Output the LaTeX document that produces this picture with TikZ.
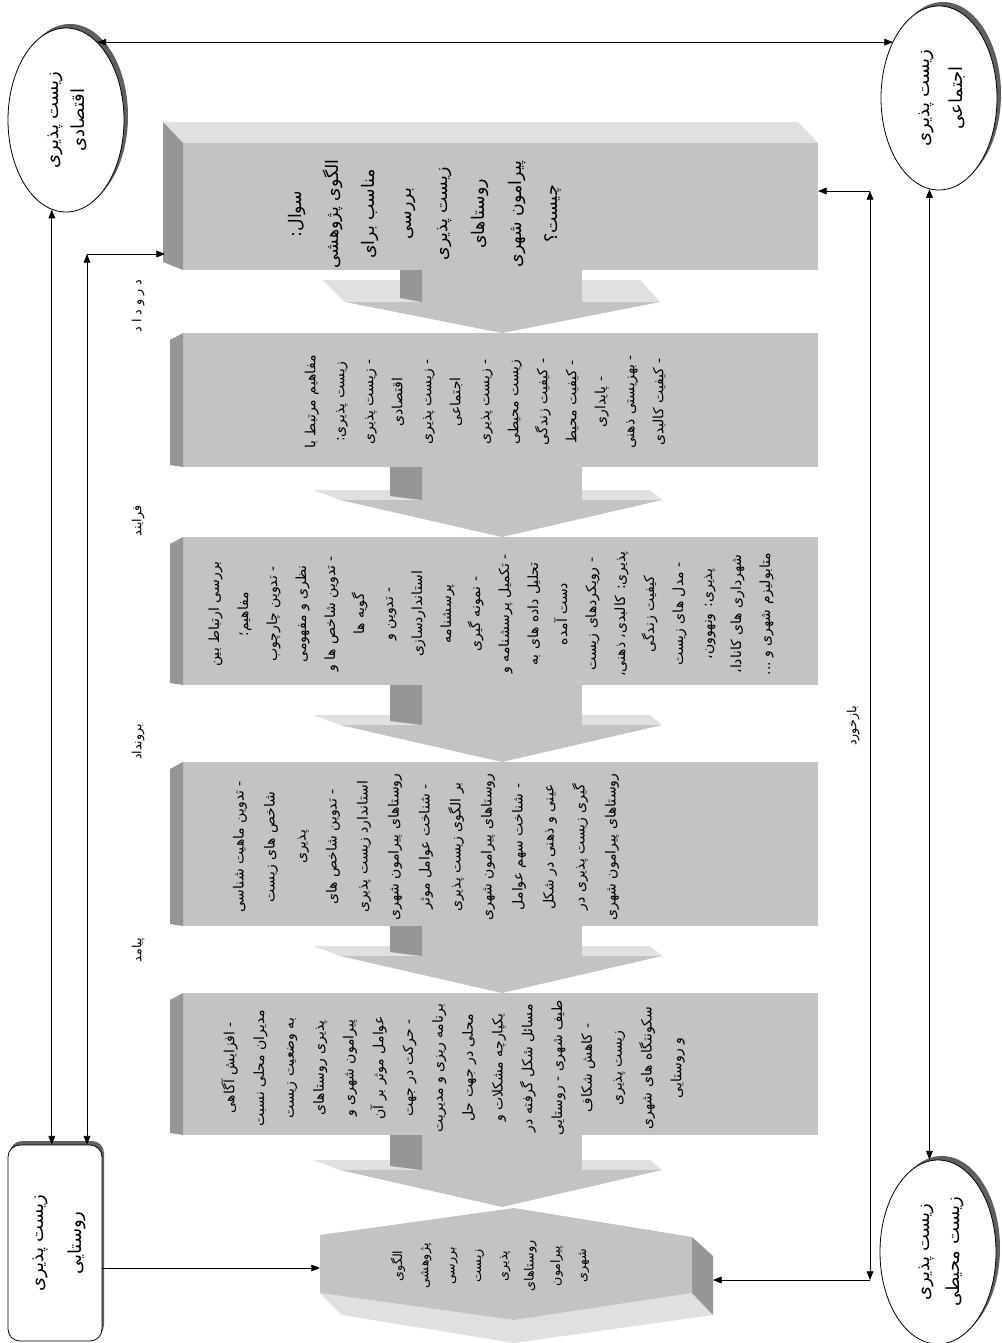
\documentclass[tikz,border=0pt]{standalone}
\usepackage{fontspec}
\usepackage{graphicx}
\usetikzlibrary{shapes.geometric}
\usetikzlibrary{arrows.meta}
\newfontfamily\farsifont[Script=Arabic]{DejaVu Sans}
\TeXXeTstate=1
\newcommand{\fa}[1]{\beginR #1\endR}
\definecolor{faceGray}{RGB}{195,195,195}
\definecolor{topGray}{RGB}{224,224,224}
\definecolor{sideGray}{RGB}{150,150,150}
\definecolor{shadowGray}{RGB}{95,95,95}

\begin{document}
\begin{tikzpicture}[x=0.75pt,y=0.75pt,yscale=-1,xscale=1,
  face/.style={fill=faceGray,draw=none,inner sep=0pt,outer sep=0pt,minimum width=476.25pt},
  txt/.style={rotate=90,align=center,inner sep=0.75pt,font=\farsifont\fontsize{10.5}{#1}\selectfont},
  lbl/.style={rotate=90,inner sep=0.75pt,font=\farsifont\fontsize{9.5}{10}\selectfont},
  oval/.style={ellipse,draw,fill=white,line width=0.6pt,inner sep=0pt,minimum width=87pt,minimum height=138pt},
  arr/.style={line width=0.6pt,-{Triangle[length=6.5pt,width=5pt]}},
  darr/.style={line width=0.6pt,{Triangle[length=6.5pt,width=5pt]}-{Triangle[length=6.5pt,width=5pt]}}]
\useasboundingbox (0,0) rectangle (1001,1343);

%Shape: Box fronts
\node[face,minimum height=95.25pt] (b1) at (500.5,206.5) {};
\node[face,minimum height=100.5pt] (b2) at (500.5,400) {};
\node[face,minimum height=111pt] (b3) at (500.5,611) {};
\node[face,minimum height=123pt] (b4) at (500.5,844) {};
\node[face,minimum height=106.5pt] (b5) at (500.5,1064) {};

%Shape: Box 3d sides
\fill[topGray] (163,122) -- (798,122) -- (818,143) -- (183,143) -- cycle;
\fill[sideGray] (163,122) -- (183,143) -- (183,270) -- (163,262) -- cycle;
\fill[sideGray] (170,340) -- (183,333) -- (183,467) -- (170,465) -- cycle;
\fill[sideGray] (170,544) -- (183,537) -- (183,685) -- (170,683) -- cycle;
\fill[sideGray] (170,769) -- (183,762) -- (183,926) -- (170,924) -- cycle;
\fill[sideGray] (170,1000) -- (183,993) -- (183,1135) -- (170,1133) -- cycle;

%Shape: Block arrow 1
\fill[topGray] (323,280) -- (640,280) -- (660,302) -- (345,302) -- cycle;
\fill[faceGray] (422,270) rectangle (582,303);
\fill[sideGray] (400,270) -- (422,270) -- (422,302) -- (400,298) -- cycle;
\fill[faceGray] (345,302) -- (660,302) -- (502,333) -- cycle;
%Shape: Block arrow 2
\fill[topGray] (313,490) -- (650,490) -- (662,500) -- (340,500) -- cycle;
\fill[faceGray] (422,467) rectangle (582,501);
\fill[sideGray] (390,467) -- (422,467) -- (422,500) -- (390,496) -- cycle;
\fill[faceGray] (340,500) -- (662,500) -- (502,537) -- cycle;
%Shape: Block arrow 3
\fill[topGray] (313,715) -- (650,715) -- (662,725) -- (340,725) -- cycle;
\fill[faceGray] (422,685) rectangle (582,726);
\fill[sideGray] (390,685) -- (422,685) -- (422,725) -- (390,721) -- cycle;
\fill[faceGray] (340,725) -- (662,725) -- (502,762) -- cycle;
%Shape: Block arrow 4
\fill[topGray] (313,946) -- (650,946) -- (662,956) -- (340,956) -- cycle;
\fill[faceGray] (422,926) rectangle (582,957);
\fill[sideGray] (390,926) -- (422,926) -- (422,956) -- (390,952) -- cycle;
\fill[faceGray] (340,956) -- (662,956) -- (502,993) -- cycle;
%Shape: Block arrow 5
\fill[topGray] (313,1160) -- (650,1160) -- (662,1170) -- (340,1170) -- cycle;
\fill[faceGray] (422,1135) rectangle (582,1171);
\fill[sideGray] (390,1135) -- (422,1135) -- (422,1170) -- (390,1166) -- cycle;
\fill[faceGray] (340,1170) -- (662,1170) -- (502,1207) -- cycle;

%Shape: Final block
\fill[topGray] (320,1293) -- (342,1315) -- (514,1343) -- (713,1315) -- (692,1293) -- (514,1320) -- cycle;
\fill[sideGray] (692,1237) -- (713,1256) -- (713,1315) -- (692,1293) -- cycle;
\fill[faceGray] (320,1235) -- (514,1208) -- (692,1237) -- (692,1293) -- (514,1320) -- (320,1293) -- cycle;
\node[inner sep=0pt,outer sep=0pt,minimum width=294.75pt,minimum height=84pt] (fin) at (516.5,1268) {};

%Shape: Ellipses and rural box
\fill[shadowGray] (70,116) ellipse [x radius=58, y radius=92];
\node[oval] (econ) at (66,120) {\rotatebox{90}{\farsifont\fontsize{13.5}{20}\selectfont\begin{tabular}{c}\fa{زیست پذیری}\\\fa{اقتصادی}\end{tabular}}};
\fill[shadowGray] (943,94) ellipse [x radius=58, y radius=92];
\node[oval] (soc) at (939,98) {\rotatebox{90}{\farsifont\fontsize{13.5}{25}\selectfont\begin{tabular}{c}\fa{زیست پذیری}\\\fa{اجتماعی}\end{tabular}}};
\fill[shadowGray] (942,1248) ellipse [x radius=58, y radius=92];
\node[oval] (env) at (938,1252) {\rotatebox{90}{\farsifont\fontsize{13.5}{22.5}\selectfont\begin{tabular}{c}\fa{زیست پذیری}\\\fa{زیست محیطی}\end{tabular}}};
\fill[shadowGray,rounded corners=9pt] (10,1141) rectangle (104,1337);
\node[draw,fill=white,rounded corners=9pt,line width=0.6pt,inner sep=0pt,minimum width=70.5pt,minimum height=147pt] (rural) at (55,1243) {\rotatebox{90}{\farsifont\fontsize{13.5}{28}\selectfont\begin{tabular}{c}\fa{زیست پذیری}\\\fa{روستایی}\end{tabular}}};

%Straight Lines
\coordinate (inL) at (87,254);
\coordinate (inR) at (870,191);
\coordinate (outR) at (870,1280);
\draw[darr] (econ.68) -- (econ.68 -| soc.129);
\draw[darr] (econ.261) -- (econ.261 |- rural.north);
\draw[darr] (inL) -- (inL |- rural.north);
\draw[arr,shorten >=13.5pt] (inL) -- (inL -| b1.west);
\draw[arr] (inR) -- (inR -| b1.east);
\draw[darr] (inR) -- (outR);
\draw[arr] (outR) -- (outR -| fin.east);
\draw[arr] (rural.east |- fin.west) -- (fin.west);
\draw[darr] (soc.264) -- (soc.264 |- env.north);

% Text Node
\node[txt=27.4pt,font=\farsifont\fontsize{13}{27.4}\selectfont] (t1) at (425,214) {\fa{سوال:}\\\fa{الگوی پژوهشی}\\\fa{مناسب برای}\\\fa{بررسی}\\\fa{زیست پذیری}\\\fa{روستاهای}\\\fa{پیرامون شهری}\\\fa{چیست؟}};
% Text Node
\node[txt=21.75pt] (t2) at (485,402) {\fa{مفاهیم مرتبط با}\\\fa{زیست پذیری:}\\\fa{- زیست پذیری}\\\fa{اقتصادی}\\\fa{- زیست پذیری}\\\fa{اجتماعی}\\\fa{- زیست پذیری}\\\fa{زیست محیطی}\\\fa{- کیفیت زندگی}\\\fa{- کیفیت محیط}\\\fa{- پایداری}\\\fa{- بهزیستی ذهنی}\\\fa{- کیفیت کالبدی}};
% Text Node
\node[txt=21.75pt] (t3) at (491,614) {\fa{بررسی ارتباط بین}\\\fa{مفاهیم؛}\\\fa{- تدوین چارچوب}\\\fa{نظری و مفهومی}\\\fa{- تدوین شاخص ها و}\\\fa{گویه ها}\\\fa{- تدوین و}\\\fa{استانداردسازی}\\\fa{پرسشنامه}\\\fa{- نمونه گیری}\\\fa{- تکمیل پرسشنامه و}\\\fa{تحلیل داده های به}\\\fa{دست آمده}\\\fa{- رویکردهای زیست}\\\fa{پذیری: کالبدی، ذهنی،}\\\fa{کیفیت زندگی}\\\fa{- مدل های زیست}\\\fa{پذیری: ونهوون،}\\\fa{شهرداری های کانادا،}\\\fa{متابولیزم شهری و ...}};
% Text Node
\node[txt=23.25pt] (t4) at (426,847) {\fa{- تدوین ماهیت شناسی}\\\fa{شاخص های زیست}\\\fa{پذیری}\\\fa{- تدوین شاخص های}\\\fa{استاندارد زیست پذیری}\\\fa{روستاهای پیرامون شهری}\\\fa{- شناخت عوامل موثر}\\\fa{بر الگوی زیست پذیری}\\\fa{روستاهای پیرامون شهری}\\\fa{- شناخت سهم عوامل}\\\fa{عینی و ذهنی در شکل}\\\fa{گیری زیست پذیری در}\\\fa{روستاهای پیرامون شهری}};
% Text Node
\node[txt=22.35pt] (t5) at (453,1068) {\fa{- افزایش آگاهی}\\\fa{مدیران محلی نسبت}\\\fa{به وضعیت زیست}\\\fa{پذیری روستاهای}\\\fa{پیرامون شهری و}\\\fa{عوامل موثر بر آن}\\\fa{- حرکت در جهت}\\\fa{برنامه ریزی و مدیریت}\\\fa{محلی در جهت حل}\\\fa{یکپارچه مشکلات و}\\\fa{مسائل شکل گرفته در}\\\fa{طیف شهری - روستایی}\\\fa{- کاهش شکاف}\\\fa{زیست پذیری}\\\fa{سکونتگاه های شهری}\\\fa{و روستایی}};
% Text Node
\node[txt=19.7pt,font=\farsifont\fontsize{9.5}{19.7}\selectfont] (tf) at (490,1266) {\fa{الگوی}\\\fa{پژوهشی}\\\fa{بررسی}\\\fa{زیست}\\\fa{پذیری}\\\fa{روستاهای}\\\fa{پیرامون}\\\fa{شهری}};
% Text Node
\node[lbl] (l1) at (138,306) {\fa{د\kern3pt ر\kern3pt و\kern3pt د\kern3pt ا\kern3pt د}};
\node[lbl] (l2) at (138,521) {\fa{فرایند}};
\node[lbl] (l3) at (138,742) {\fa{برونداد}};
\node[lbl] (l4) at (138,950) {\fa{پیامد}};
\node[lbl] (l5) at (853,726) {\fa{بازخورد}};

\end{tikzpicture}
\end{document}
